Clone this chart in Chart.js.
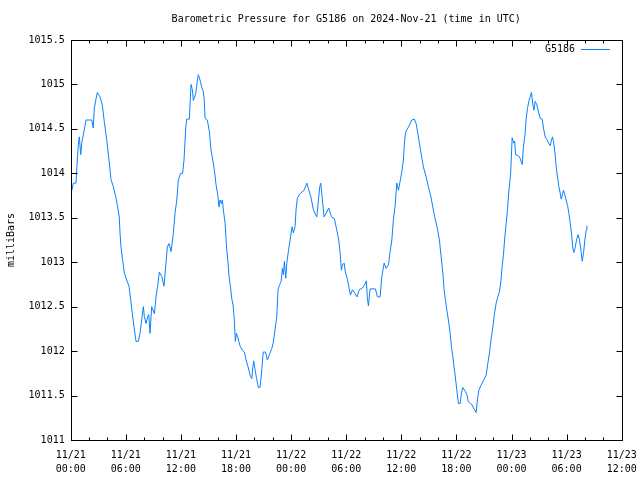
<!DOCTYPE html>
<html>
<head>
<meta charset="utf-8">
<script src="https://cdn.jsdelivr.net/npm/chart.js@4.4.1/dist/chart.umd.min.js"></script>
<style>
  html, body { margin: 0; padding: 0; background: #fff; }
  canvas { display: block; }
</style>
</head>
<body>
<canvas id="chart" width="640" height="480"></canvas>
<script>
// hours since 11/21 00:00 UTC
const hours = [
  0.14, 0.28, 0.58, 0.72, 0.83, 0.94, 1.09, 1.23, 1.37, 1.67, 2.29, 2.46, 2.57, 2.76, 2.90,
  3.19, 3.44, 3.66, 3.92, 4.17, 4.39, 4.64, 4.90, 5.08, 5.29, 5.37, 5.48, 5.66, 5.84, 6.10,
  6.35, 6.54, 6.71, 6.90, 7.11, 7.36, 7.55, 7.73, 7.91, 8.02, 8.20, 8.39, 8.50, 8.64, 8.82,
  9.11, 9.29, 9.48, 9.65, 9.91, 10.16, 10.31, 10.52, 10.71, 10.93, 11.18, 11.36, 11.55, 11.72, 11.98,
  12.18, 12.34, 12.53, 12.64, 12.92, 13.10, 13.25, 13.36, 13.62, 13.83, 13.90, 14.08, 14.27, 14.44, 14.55,
  14.63, 14.88, 15.10, 15.28, 15.47, 15.64, 15.83, 16.01, 16.15, 16.26, 16.41, 16.51, 16.67, 16.81, 16.99,
  17.14, 17.24, 17.39, 17.54, 17.68, 17.79, 17.93, 18.04, 18.19, 18.30, 18.47, 18.69, 18.91, 19.10, 19.35,
  19.53, 19.72, 19.83, 19.93, 20.08, 20.26, 20.44, 20.62, 20.81, 20.92, 20.98, 21.20, 21.42, 21.63, 21.90,
  22.07, 22.25, 22.44, 22.58, 22.72, 22.91, 23.05, 23.16, 23.27, 23.42, 23.53, 23.70, 23.89, 24.11, 24.25,
  24.43, 24.54, 24.68, 24.90, 25.16, 25.41, 25.71, 25.88, 26.14, 26.43, 26.69, 26.80, 26.94, 27.12, 27.23,
  27.37, 27.59, 27.81, 28.10, 28.39, 28.71, 28.98, 29.19, 29.34, 29.48, 29.59, 29.77, 29.91, 30.10, 30.28,
  30.46, 30.68, 30.94, 31.19, 31.41, 31.76, 31.98, 32.20, 32.31, 32.42, 32.60, 33.18, 33.40, 33.69, 33.88,
  34.13, 34.35, 34.60, 34.78, 34.97, 35.14, 35.33, 35.51, 35.69, 35.87, 36.06, 36.23, 36.31, 36.45, 36.60,
  36.78, 37.15, 37.43, 37.61, 37.80, 37.97, 38.16, 38.41, 38.70, 38.95, 39.22, 39.43, 39.68, 39.93, 40.15,
  40.34, 40.52, 40.66, 40.81, 40.96, 41.13, 41.32, 41.46, 41.61, 41.75, 41.86, 42.05, 42.22, 42.41, 42.55,
  42.70, 42.95, 43.14, 43.31, 43.50, 43.68, 43.86, 44.15, 44.29, 44.44, 44.66, 44.95, 45.24, 45.42, 45.60,
  45.78, 45.97, 46.14, 46.33, 46.51, 46.69, 46.84, 46.98, 47.12, 47.28, 47.42, 47.56, 47.71, 47.91, 48.07,
  48.24, 48.34, 48.45, 48.72, 48.94, 49.16, 49.30, 49.49, 49.60, 49.74, 49.89, 50.03, 50.17, 50.33, 50.44,
  50.58, 50.76, 50.94, 51.12, 51.34, 51.48, 51.67, 51.85, 52.03, 52.21, 52.32, 52.46, 52.57, 52.72, 52.87,
  53.01, 53.16, 53.30, 53.41, 53.55, 53.66, 53.81, 53.95, 54.10, 54.25, 54.39, 54.53, 54.68, 54.79, 54.94,
  55.12, 55.26, 55.40, 55.56, 55.70, 55.84, 55.99, 56.13, 56.21
];

// pressure in millibars
const pressure = [
  1013.81, 1013.89, 1013.89, 1014.15, 1014.32, 1014.41, 1014.21, 1014.36, 1014.43, 1014.60, 1014.60, 1014.51, 1014.73, 1014.84, 1014.91,
  1014.86, 1014.77, 1014.58, 1014.38, 1014.15, 1013.93, 1013.85, 1013.74, 1013.64, 1013.51, 1013.33, 1013.17, 1013.02, 1012.88, 1012.80,
  1012.73, 1012.57, 1012.42, 1012.27, 1012.11, 1012.11, 1012.20, 1012.35, 1012.50, 1012.39, 1012.31, 1012.39, 1012.41, 1012.20, 1012.50,
  1012.42, 1012.61, 1012.74, 1012.89, 1012.84, 1012.73, 1012.91, 1013.17, 1013.21, 1013.12, 1013.33, 1013.55, 1013.70, 1013.93, 1014.00,
  1014.00, 1014.15, 1014.52, 1014.61, 1014.61, 1015.00, 1014.94, 1014.82, 1014.90, 1015.07, 1015.11, 1015.05, 1014.97, 1014.92, 1014.82,
  1014.62, 1014.60, 1014.47, 1014.26, 1014.15, 1014.04, 1013.87, 1013.76, 1013.62, 1013.70, 1013.66, 1013.70, 1013.55, 1013.44, 1013.14,
  1012.99, 1012.84, 1012.73, 1012.59, 1012.52, 1012.39, 1012.11, 1012.20, 1012.16, 1012.11, 1012.05, 1012.01, 1011.99, 1011.90, 1011.81,
  1011.73, 1011.69, 1011.82, 1011.89, 1011.79, 1011.68, 1011.59, 1011.59, 1011.79, 1011.94, 1011.99, 1011.99, 1011.90, 1011.96, 1012.03,
  1012.10, 1012.24, 1012.39, 1012.69, 1012.74, 1012.78, 1012.93, 1012.86, 1013.01, 1012.82, 1012.99, 1013.12, 1013.25, 1013.40, 1013.33,
  1013.40, 1013.59, 1013.72, 1013.76, 1013.79, 1013.81, 1013.89, 1013.83, 1013.74, 1013.59, 1013.53, 1013.51, 1013.66, 1013.85, 1013.89,
  1013.74, 1013.51, 1013.55, 1013.61, 1013.51, 1013.49, 1013.36, 1013.25, 1013.10, 1012.91, 1012.97, 1012.99, 1012.89, 1012.82, 1012.73,
  1012.63, 1012.69, 1012.65, 1012.61, 1012.69, 1012.71, 1012.74, 1012.79, 1012.59, 1012.51, 1012.70, 1012.70, 1012.61, 1012.61, 1012.84,
  1012.99, 1012.93, 1012.97, 1013.12, 1013.25, 1013.48, 1013.64, 1013.89, 1013.81, 1013.91, 1014.02, 1014.15, 1014.30, 1014.45, 1014.49,
  1014.52, 1014.60, 1014.61, 1014.56, 1014.45, 1014.34, 1014.22, 1014.07, 1013.96, 1013.85, 1013.74, 1013.62, 1013.49, 1013.38, 1013.25,
  1013.06, 1012.88, 1012.69, 1012.57, 1012.46, 1012.35, 1012.20, 1012.05, 1011.94, 1011.82, 1011.73, 1011.56, 1011.41, 1011.41, 1011.53,
  1011.59, 1011.55, 1011.51, 1011.43, 1011.41, 1011.40, 1011.36, 1011.31, 1011.45, 1011.56, 1011.61, 1011.67, 1011.73, 1011.86, 1011.98,
  1012.14, 1012.27, 1012.42, 1012.54, 1012.61, 1012.67, 1012.78, 1012.95, 1013.08, 1013.29, 1013.44, 1013.59, 1013.80, 1014.00, 1014.40,
  1014.34, 1014.36, 1014.21, 1014.20, 1014.17, 1014.10, 1014.30, 1014.45, 1014.62, 1014.73, 1014.81, 1014.86, 1014.91, 1014.77, 1014.71,
  1014.81, 1014.77, 1014.69, 1014.62, 1014.61, 1014.51, 1014.41, 1014.38, 1014.34, 1014.31, 1014.36, 1014.41, 1014.36, 1014.24, 1014.07,
  1013.96, 1013.85, 1013.78, 1013.71, 1013.76, 1013.81, 1013.76, 1013.70, 1013.64, 1013.55, 1013.44, 1013.33, 1013.16, 1013.11, 1013.17,
  1013.27, 1013.31, 1013.25, 1013.14, 1013.01, 1013.10, 1013.25, 1013.36, 1013.41
];

const xTickLabels = [
  ['11/21', '00:00'], ['11/21', '06:00'], ['11/21', '12:00'], ['11/21', '18:00'],
  ['11/22', '00:00'], ['11/22', '06:00'], ['11/22', '12:00'], ['11/22', '18:00'],
  ['11/23', '00:00'], ['11/23', '06:00'], ['11/23', '12:00']
];
const yMin = 1011;
const yMax = 1015.5;

const FONT = '"DejaVu Sans Mono", "Liberation Mono", monospace';
const FONT_SIZE = 10;
const LINE_COLOR = '#0a80ff';

// gnuplot style frame, inward ticks, title, ylabel and key
const gnuFrame = {
  id: 'gnuFrame',
  afterDraw(chart) {
    const { ctx, chartArea: a, scales: { x, y } } = chart;
    const L = Math.round(a.left) + 0.5, R = Math.round(a.right) + 0.5;
    const T = Math.round(a.top) + 0.5, B = Math.round(a.bottom) + 0.5;
    ctx.save();
    ctx.strokeStyle = '#000';
    ctx.lineWidth = 1;
    ctx.strokeRect(L, T, R - L, B - T);

    ctx.beginPath();
    for (let h = 0; h <= 60; h += 2) {
      const px = Math.round(x.getPixelForValue(h)) + 0.5;
      const len = h % 6 === 0 ? 6 : 3;
      ctx.moveTo(px, B); ctx.lineTo(px, B - len);
      ctx.moveTo(px, T); ctx.lineTo(px, T + len);
    }
    y.ticks.forEach(t => {
      const py = Math.round(y.getPixelForValue(t.value)) + 0.5;
      ctx.moveTo(L, py); ctx.lineTo(L + 6, py);
      ctx.moveTo(R, py); ctx.lineTo(R - 6, py);
    });
    ctx.stroke();

    ctx.fillStyle = '#000';
    ctx.font = FONT_SIZE + 'px ' + FONT;
    ctx.textAlign = 'center';
    ctx.textBaseline = 'middle';
    ctx.fillText('Barometric Pressure for G5186 on 2024-Nov-21 (time in UTC)', (a.left + a.right) / 2, 19.5);

    ctx.save();
    ctx.translate(11, (a.top + a.bottom) / 2);
    ctx.rotate(-Math.PI / 2);
    ctx.fillText('milliBars', 0, 0);
    ctx.restore();

    // key
    ctx.textAlign = 'right';
    ctx.fillText(chart.data.datasets[0].label, 575, 49);
    ctx.strokeStyle = LINE_COLOR;
    ctx.beginPath();
    ctx.moveTo(581, 49.5); ctx.lineTo(610, 49.5);
    ctx.stroke();
    ctx.restore();
  }
};

new Chart(document.getElementById('chart'), {
  type: 'line',
  data: {
    datasets: [{
      label: 'G5186',
      data: hours.map((h, i) => ({ x: h, y: pressure[i] })),
      borderColor: LINE_COLOR,
      borderWidth: 1,
      pointRadius: 0,
      tension: 0,
      fill: false
    }]
  },
  options: {
    responsive: false,
    animation: false,
    devicePixelRatio: 1,
    layout: { padding: { left: 0, right: 18.3, top: 40, bottom: 0 } },
    plugins: { legend: { display: false }, title: { display: false }, tooltip: { enabled: false } },
    scales: {
      x: {
        type: 'linear',
        min: 0,
        max: 60,
        grid: { display: false, drawTicks: false },
        border: { display: false },
        afterFit: s => { s.height = 40; s.paddingLeft = 0; s.paddingRight = 0; },
        ticks: {
          stepSize: 6,
          autoSkip: false,
          maxRotation: 0,
          padding: 8,
          color: '#000',
          font: { family: FONT, size: FONT_SIZE, lineHeight: 1.4 },
          callback: v => xTickLabels[Math.round(v / 6)]
        }
      },
      y: {
        min: yMin,
        max: yMax,
        grid: { display: false, drawTicks: false },
        border: { display: false },
        afterFit: s => { s.width = 70.7; s.paddingTop = 0; s.paddingBottom = 0; },
        ticks: {
          stepSize: 0.5,
          padding: 6,
          color: '#000',
          font: { family: FONT, size: FONT_SIZE },
          callback: v => String(v)
        }
      }
    }
  },
  plugins: [gnuFrame]
});
</script>
</body>
</html>
